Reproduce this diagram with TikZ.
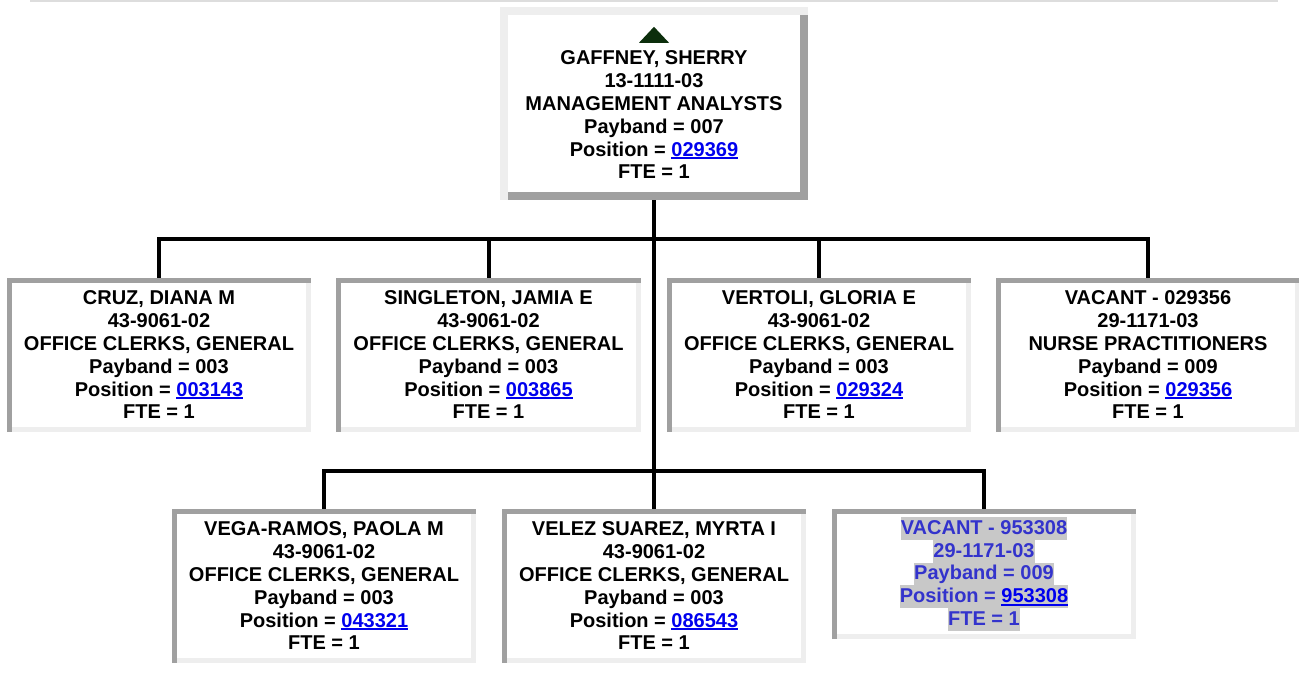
\documentclass[tikz,border=0pt]{standalone}
\usepackage{fontspec}
\setmainfont{Liberation Sans}
\usepackage{xcolor}
\usepackage{tikz}
\definecolor{boxDark}{RGB}{160,160,160}
\definecolor{boxLight}{RGB}{238,238,238}
\definecolor{linkBlue}{RGB}{0,0,238}
\definecolor{vacBlue}{RGB}{51,51,204}
\definecolor{hlGray}{RGB}{200,200,200}
\definecolor{upGreen}{RGB}{12,46,12}
\definecolor{topRule}{RGB}{221,221,221}

% underlined position number
\newcommand{\poslink}[1]{\textcolor{linkBlue}{\setbox0\hbox{#1}\rlap{\rule[-3.2pt]{\wd0}{2.3pt}}\box0}}
% grey highlighted line
\newcommand{\hlline}[1]{{\setlength{\fboxsep}{0pt}\colorbox{hlGray}{\rule[-5.5pt]{0pt}{22.8pt}#1}}}

\begin{document}
\begin{tikzpicture}[x=1pt, y=-1pt,
  card/.style={fill=white, inner sep=0pt, minimum width=304, minimum height=154,
    align=center, font=\fontsize{20pt}{22.8pt}\selectfont\bfseries},
  bosscard/.style={card, minimum width=308, minimum height=193},
  conn/.style={line width=4}]
  \useasboundingbox (0,0) rectangle (1299,688);
  \draw[topRule, line width=1.5] (30,0.75) -- (1278,0.75);

  % Top
  \node[bosscard] (boss) at (654,103.5) {\rule{0pt}{14pt}\\GAFFNEY, SHERRY\\13-1111-03\\MANAGEMENT ANALYSTS\\Payband = 007\\Position = \poslink{029369}\\FTE = 1};

  % Row 1
  \node[card] (cruz) at (159,355) {CRUZ, DIANA M\\43-9061-02\\OFFICE CLERKS, GENERAL\\Payband = 003\\Position = \poslink{003143}\\FTE = 1};
  \node[card] (singleton) at (488.5,355) {SINGLETON, JAMIA E\\43-9061-02\\OFFICE CLERKS, GENERAL\\Payband = 003\\Position = \poslink{003865}\\FTE = 1};
  \node[card] (vertoli) at (819,355) {VERTOLI, GLORIA E\\43-9061-02\\OFFICE CLERKS, GENERAL\\Payband = 003\\Position = \poslink{029324}\\FTE = 1};
  \node[card] (vacantA) at (1148,355) {VACANT - 029356\\29-1171-03\\NURSE PRACTITIONERS\\Payband = 009\\Position = \poslink{029356}\\FTE = 1};

  % Row 2
  \node[card] (vega) at (324,586) {VEGA-RAMOS, PAOLA M\\43-9061-02\\OFFICE CLERKS, GENERAL\\Payband = 003\\Position = \poslink{043321}\\FTE = 1};
  \node[card] (velez) at (654,586) {VELEZ SUAREZ, MYRTA I\\43-9061-02\\OFFICE CLERKS, GENERAL\\Payband = 003\\Position = \poslink{086543}\\FTE = 1};
  \node[card, minimum height=130, text=vacBlue] (vacantB) at (984,574) {\hlline{VACANT - 953308}\\\hlline{29-1171-03}\\\hlline{Payband = 009}\\\hlline{Position = \poslink{953308}}\\\hlline{FTE = 1}};

  % Lines
  \coordinate (bus1) at (654,239);
  \coordinate (bus2) at (654,471);
  \draw[conn] (boss.south) -- (velez.north);
  \draw[conn] (cruz.north) |- (bus1) -| (vacantA.north);
  \foreach \n in {singleton,vertoli}
    \draw[conn] (\n.north) -- (\n.north |- bus1);
  \draw[conn] (vega.north) |- (bus2) -| (vacantB.north);

  % Borders
  \draw[line width=8, boxDark] ([shift={(0,-4)}]boss.south west) -| ([shift={(-4,0)}]boss.north east);
  \draw[line width=8, boxLight] ([shift={(4,0)}]boss.south west) |- ([shift={(0,4)}]boss.north east);
  \foreach \n in {cruz,singleton,vertoli,vacantA,vega,velez,vacantB} {
    \draw[line width=5, boxLight] ([shift={(0,-2.5)}]\n.south west) -| ([shift={(-2.5,0)}]\n.north east);
    \draw[line width=5, boxDark] ([shift={(2.5,0)}]\n.south west) |- ([shift={(0,2.5)}]\n.north east);
  }

  % Up arrow
  \fill[upGreen] ([shift={(0,20)}]boss.north) -- ([shift={(15,36)}]boss.north) -- ([shift={(-15,36)}]boss.north) -- cycle;
\end{tikzpicture}
\end{document}
